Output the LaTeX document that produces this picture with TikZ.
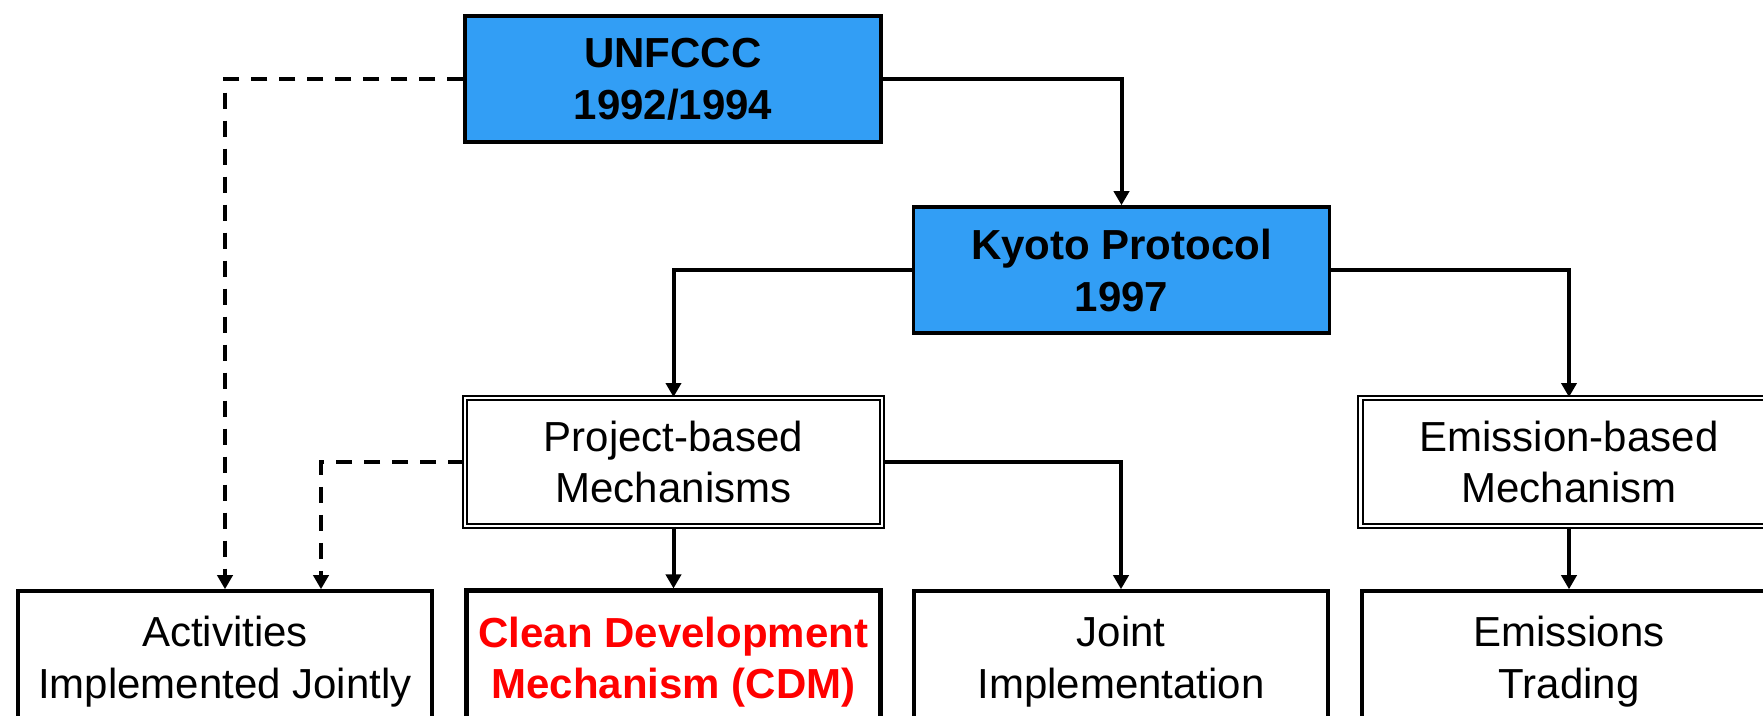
\documentclass[tikz,border=0pt]{standalone}
\usepackage{fontspec}
\setmainfont{Liberation Sans}
\usetikzlibrary{arrows.meta}
\definecolor{boxblue}{RGB}{50,158,245}
\definecolor{cdmred}{RGB}{255,0,0}
\begin{document}
\begin{tikzpicture}[x=0.5pt,y=-0.5pt,
  topbox/.style={draw=black,line width=1.75pt,fill=boxblue,align=center,
    minimum width=208pt,minimum height=63pt,inner sep=0pt,
    font=\fontsize{21pt}{26pt}\selectfont\bfseries},
  mechbox/.style={draw=black,double=white,line width=0.9pt,double distance=1.3pt,
    align=center,minimum width=208.5pt,minimum height=64pt,inner sep=0pt,
    font=\fontsize{21pt}{25.5pt}\selectfont},
  leafbox/.style={draw=black,line width=1.75pt,fill=white,align=center,
    minimum width=207pt,minimum height=71pt,inner sep=0pt,
    font=\fontsize{21pt}{26pt}\selectfont},
  conn/.style={line width=2pt,-{Triangle[width=7.5pt,length=7pt]}},
  dconn/.style={conn,dash pattern=on 8pt off 6pt}]
\clip (0,0) rectangle (1763,716);
\fill[white] (0,0) rectangle (1763,716);

\node[topbox] (unfccc) at (673,79) {UNFCCC\\1992/1994};
\node[topbox] (kyoto) at (1121.5,270) {Kyoto Protocol\\1997};

\node[mechbox] (proj) at (673.5,462) {Project-based\\Mechanisms};
\node[mechbox] (emis) at (1569,462) {Emission-based\\Mechanism};

\node[leafbox] (aij) at (225,662) {Activities\\Implemented Jointly};
\node[leafbox,line width=2.5pt,text=cdmred,font=\fontsize{21pt}{25.5pt}\selectfont\bfseries] (cdm) at (673.5,662) {Clean Development\\Mechanism (CDM)};
\node[leafbox] (ji) at (1121,662) {Joint\\Implementation};
\node[leafbox] (et) at (1569,662) {Emissions\\Trading};

\draw[conn] (unfccc.east) -| (kyoto.north);
\draw[dconn] (unfccc.west) -| (aij.north);
\draw[conn] (kyoto.west) -| (proj.north);
\draw[conn] (kyoto.east) -| (emis.north);
\draw[dconn] (proj.west) -| ([xshift=48pt]aij.north);
\draw[conn] (proj.east) -| (ji.north);
\draw[conn] (proj.south) -- (cdm.north);
\draw[conn] (emis.south) -- (et.north);
\end{tikzpicture}
\end{document}
